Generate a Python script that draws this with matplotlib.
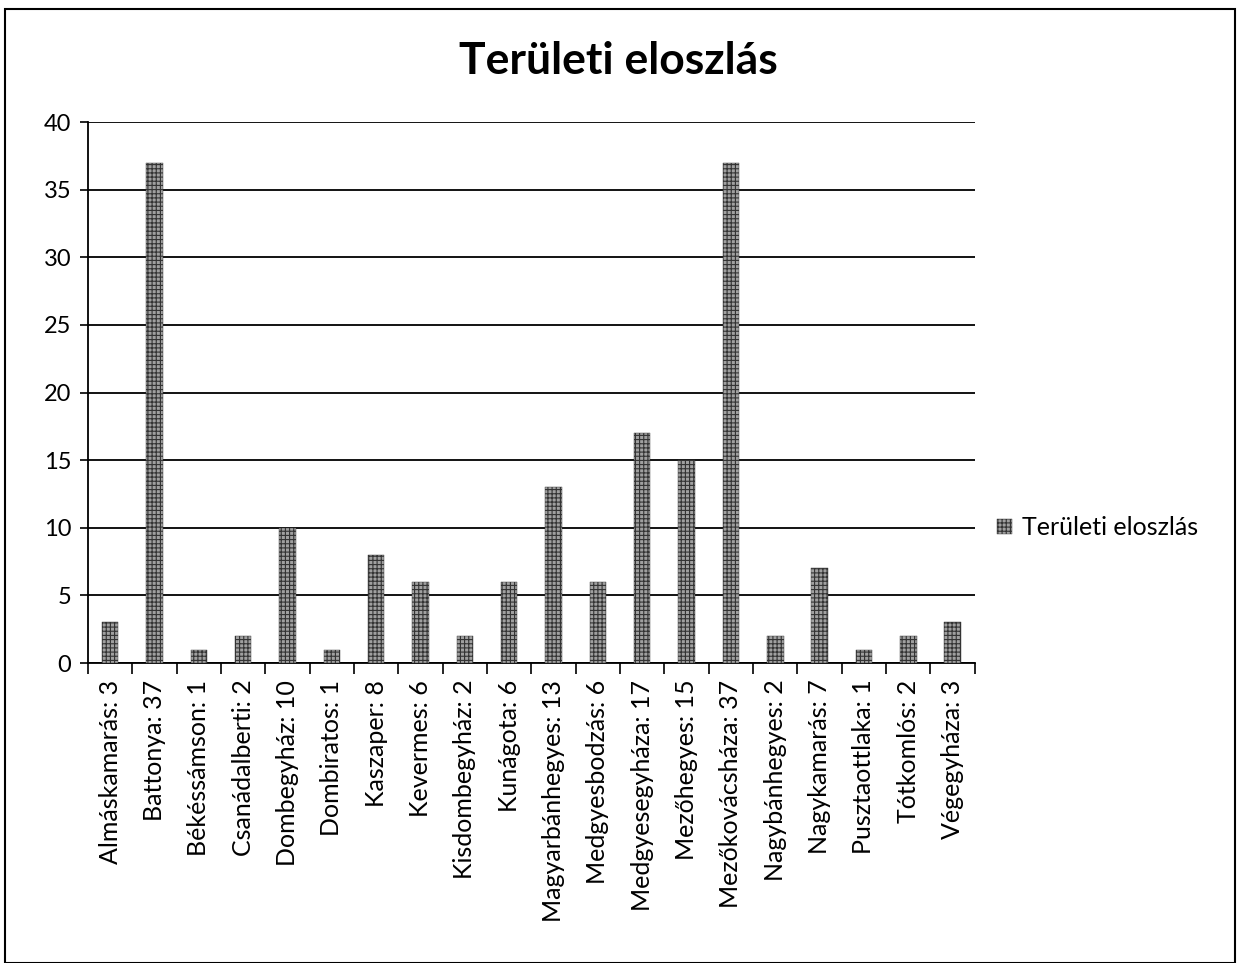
import matplotlib
matplotlib.use("Agg")
import matplotlib.pyplot as plt
from matplotlib.patches import Rectangle

plt.rcParams['font.family'] = ['Lato', 'DejaVu Sans']

categories = ["Almáskamarás", "Battonya", "Békéssámson", "Csanádalberti", "Dombegyház",
              "Dombiratos", "Kaszaper", "Kevermes", "Kisdombegyház", "Kunágota",
              "Magyarbánhegyes", "Medgyesbodzás", "Medgyesegyháza", "Mezőhegyes",
              "Mezőkovácsháza", "Nagybánhegyes", "Nagykamarás", "Pusztaottlaka",
              "Tótkomlós", "Végegyháza"]
values = [3, 37, 1, 2, 10, 1, 8, 6, 2, 6, 13, 6, 17, 15, 37, 2, 7, 1, 2, 3]
labels = [f"{c}: {v}" for c, v in zip(categories, values)]
series_name = "Területi eloszlás"
title = "Területi eloszlás"
yticks = [0, 5, 10, 15, 20, 25, 30, 35, 40]

fig = plt.figure(figsize=(12.45, 9.63), dpi=100)
fig.patches.append(Rectangle((0.004, 0.0), 0.988, 0.991, transform=fig.transFigure,
                             fill=False, edgecolor='black', linewidth=1.5))
ax = fig.add_axes([0.0707, 0.3115, 0.7123, 0.5618])

x = list(range(len(categories)))
plt.rcParams['hatch.linewidth'] = 0.8
bars = ax.bar(x, values, width=0.37, color='#a0a0a0', edgecolor='#333333',
              hatch='++++', linewidth=0.3, label=series_name, zorder=3)

ax.set_xlim(-0.5, len(categories) - 0.5)
ax.set_ylim(0, 40)
ax.set_yticks(yticks)
ax.set_yticklabels([str(t) for t in yticks], fontsize=17)
ax.yaxis.grid(True, color='black', linewidth=1.3, zorder=0)
ax.set_axisbelow(True)
ax.set_xticks([i - 0.5 for i in range(len(categories) + 1)], minor=False)
ax.set_xticklabels([])
ax.set_xticks(x, minor=True)
ax.set_xticklabels(labels, minor=True, rotation=90, fontsize=18)
ax.tick_params(axis='x', which='major', length=8, width=1.2, direction='out')
ax.tick_params(axis='x', which='minor', length=0, pad=12)
ax.tick_params(axis='y', length=6, width=1.2, direction='out', pad=6)
for s in ['top', 'right']:
    ax.spines[s].set_visible(False)
ax.spines['left'].set_linewidth(1.3)
ax.spines['bottom'].set_linewidth(1.3)

fig.text(0.497, 0.937, title, ha='center', va='center', fontsize=32, fontweight='bold')
ax.legend(loc='center left', bbox_to_anchor=(1.0, 0.25), frameon=False, fontsize=18,
          handlelength=0.6, handleheight=0.6, handletextpad=0.4)

fig.savefig("out.png", dpi=100)
